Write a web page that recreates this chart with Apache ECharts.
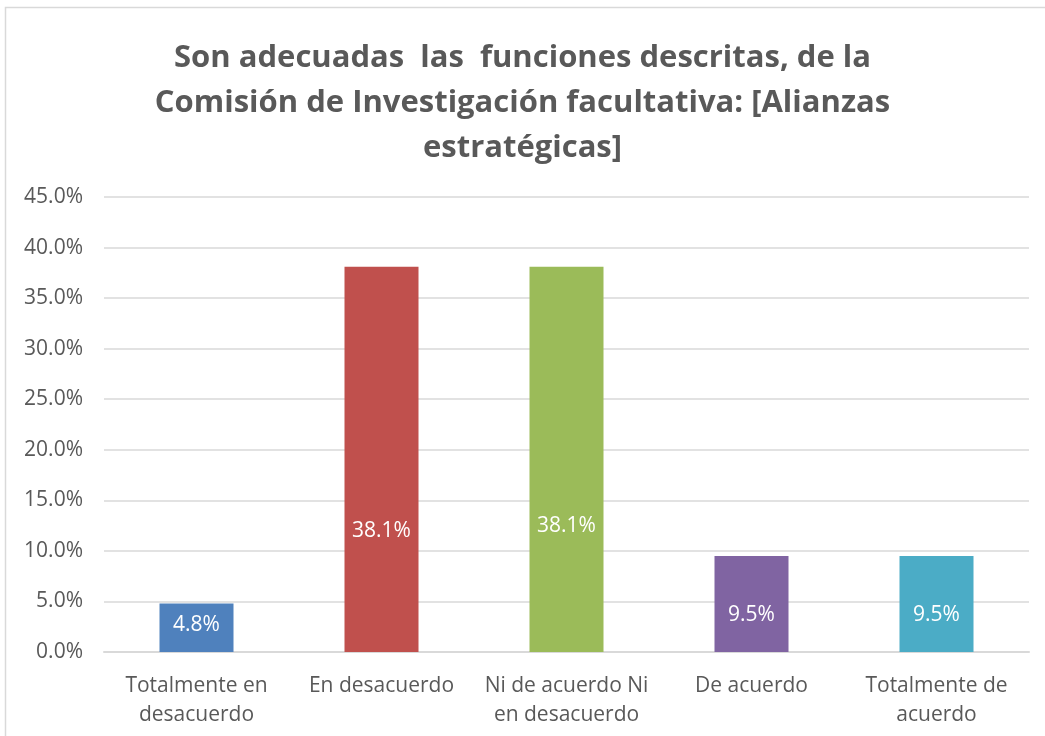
<!DOCTYPE html>
<html>
<head>
<meta charset="utf-8">
<script src="https://cdn.jsdelivr.net/npm/echarts@6/dist/echarts.min.js"></script>
<style>
  html, body { margin: 0; padding: 0; background: #ffffff; }
  #chart { width: 1045px; height: 736px; }
</style>
</head>
<body>
<div id="chart"></div>
<script>
// Respuestas: porcentaje por categoría
const categories = [
  'Totalmente en\ndesacuerdo',
  'En desacuerdo',
  'Ni de acuerdo Ni\nen desacuerdo',
  'De acuerdo',
  'Totalmente de\nacuerdo'
];
const values = [4.8, 38.1, 38.1, 9.5, 9.5];
const barColors = ['#4F81BD', '#C0504D', '#9BBB59', '#8064A2', '#4BACC6'];
const yTicks = [0, 5, 10, 15, 20, 25, 30, 35, 40, 45];

// Distancia de cada etiqueta de valor al pie de su barra (px)
const labelLift = [16, 110, 115, 26, 26];

const FONT = '"Open Sans", Lato, sans-serif';

const chart = echarts.init(document.getElementById('chart'), null, { renderer: 'canvas' });

chart.setOption({
  animation: false,
  backgroundColor: '#ffffff',
  title: {
    text: 'Son adecuadas  las  funciones descritas, de la\nComisión de Investigación facultativa: [Alianzas\nestratégicas]',
    left: 'center',
    top: 31,
    textStyle: {
      fontFamily: FONT,
      fontSize: 31,
      fontWeight: 'bold',
      color: '#595959',
      lineHeight: 45
    }
  },
  graphic: [{
    type: 'rect',
    shape: { x: 5.5, y: 7.5, width: 1100, height: 800 },
    style: { fill: null, stroke: '#d9d9d9', lineWidth: 1.5 },
    silent: true,
    z: -1
  }],
  grid: { left: 104, right: 16, top: 197, bottom: 84 },
  xAxis: {
    type: 'category',
    data: categories,
    axisLine: { show: true, lineStyle: { color: '#d9d9d9', width: 2 } },
    axisTick: { show: false },
    axisLabel: {
      interval: 0,
      margin: 20,
      fontFamily: FONT,
      fontSize: 21,
      color: '#595959',
      lineHeight: 29
    }
  },
  yAxis: {
    type: 'value',
    min: yTicks[0],
    max: yTicks[yTicks.length - 1],
    interval: 5,
    axisLine: { show: false },
    axisTick: { show: false },
    splitLine: { lineStyle: { color: '#d9d9d9', width: 1.5 } },
    axisLabel: {
      margin: 21,
      fontFamily: FONT,
      fontSize: 21,
      color: '#595959',
      formatter: v => v.toFixed(1) + '%'
    }
  },
  series: [{
    type: 'bar',
    barWidth: 74,
    data: values.map((v, i) => ({
      value: v,
      itemStyle: { color: barColors[i] },
      label: { distance: labelLift[i] }
    })),
    label: {
      show: true,
      position: 'insideBottom',
      fontFamily: FONT,
      fontSize: 21,
      color: '#ffffff',
      formatter: p => p.value.toFixed(1) + '%'
    }
  }]
});
</script>
</body>
</html>
